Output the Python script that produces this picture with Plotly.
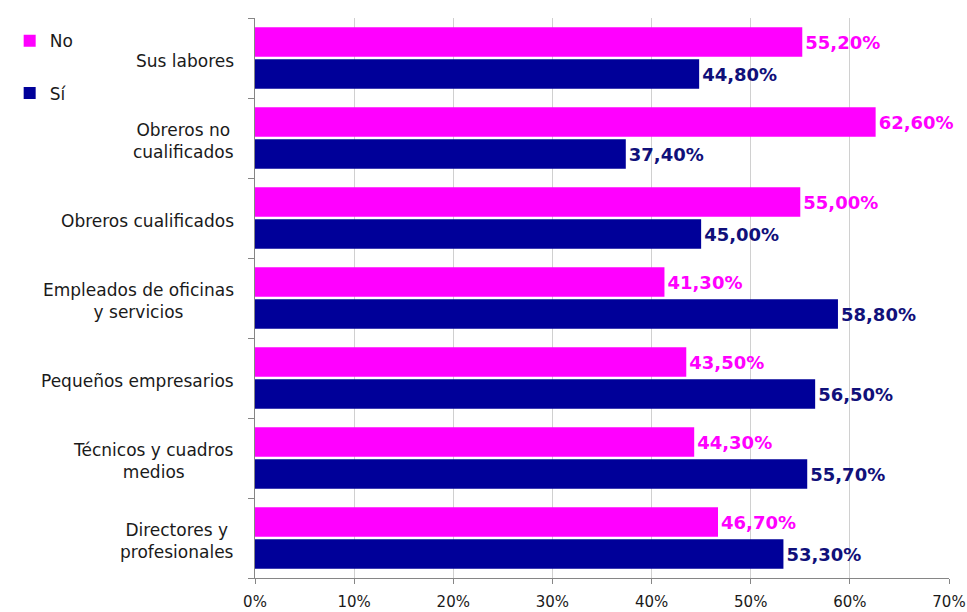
import plotly.graph_objects as go

# Occupational categories (top to bottom as displayed)
categories = [
    "Sus labores",
    "Obreros no<br>cualificados",
    "Obreros cualificados",
    "Empleados de oficinas<br>y servicios",
    "Pequeños empresarios",
    "Técnicos y cuadros<br>medios",
    "Directores y<br>profesionales",
]
no_values = [55.2, 62.6, 55.0, 41.3, 43.5, 44.3, 46.7]
si_values = [44.8, 37.4, 45.0, 58.8, 56.5, 55.7, 53.3]
x_ticks = [0, 10, 20, 30, 40, 50, 60, 70]

NO_COLOR = "#FF00FF"
SI_COLOR = "#000099"
SI_TEXT = "#10107A"
FONT = "DejaVu Sans"


def fmt(v):
    return f"{v:.2f}%".replace(".", ",")


# plotly draws categories bottom-up, so reverse for a top-down reading order
cats_plot = categories[::-1]
no_plot = no_values[::-1]
si_plot = si_values[::-1]

fig = go.Figure()
fig.add_trace(go.Bar(
    name="Sí", y=cats_plot, x=si_plot, orientation="h",
    marker=dict(color=SI_COLOR, line=dict(width=0)),
    text=[fmt(v) for v in si_plot], textposition="outside",
    textfont=dict(family=FONT, size=18, color=SI_TEXT, weight="bold"),
    cliponaxis=False, legendgroup="si", legendrank=2,
))
fig.add_trace(go.Bar(
    name="No", y=cats_plot, x=no_plot, orientation="h",
    marker=dict(color=NO_COLOR, line=dict(width=0)),
    text=[fmt(v) for v in no_plot], textposition="outside",
    textfont=dict(family=FONT, size=18, color=NO_COLOR, weight="bold"),
    cliponaxis=False, legendgroup="no", legendrank=1,
))

# Category labels, centred multi-line text to the left of the axis
for c in cats_plot:
    fig.add_annotation(
        x=-0.027, xref="paper", y=c, yref="y", yshift=-3,
        text=c, showarrow=False, xanchor="right", align="center",
        font=dict(family=FONT, size=17, color="#1a1a1a"),
    )

fig.update_layout(
    width=967, height=612,
    margin=dict(l=255, r=18, t=18, b=34, autoexpand=False),
    paper_bgcolor="white", plot_bgcolor="white",
    barmode="group", bargap=0.2, bargroupgap=0.08,
    font=dict(family=FONT, size=15, color="#1a1a1a"),
    showlegend=True,
    legend=dict(
        xref="container", yref="container", x=0.01, y=0.962,
        xanchor="left", yanchor="top",
        traceorder="grouped", tracegroupgap=27,
        font=dict(family=FONT, size=17, color="#1a1a1a"),
        bgcolor="rgba(0,0,0,0)",
    ),
)
fig.update_xaxes(
    range=[0, 70], tickvals=x_ticks, ticktext=[f"{t}%" for t in x_ticks],
    showgrid=True, gridcolor="#D0D0D0", gridwidth=1,
    showline=True, linecolor="#868686", linewidth=1,
    ticks="outside", ticklen=5, tickcolor="#868686",
    ticklabelstandoff=5,
    zeroline=False, automargin=False,
    tickfont=dict(family=FONT, size=15, color="#1a1a1a"),
)
fig.update_yaxes(
    type="category", categoryorder="array", categoryarray=cats_plot,
    showticklabels=False, tickson="boundaries",
    ticks="outside", ticklen=6, tickcolor="#868686",
    showline=True, linecolor="#868686", linewidth=1,
    showgrid=False, zeroline=False, automargin=False,
)

fig.write_html("out.html")
